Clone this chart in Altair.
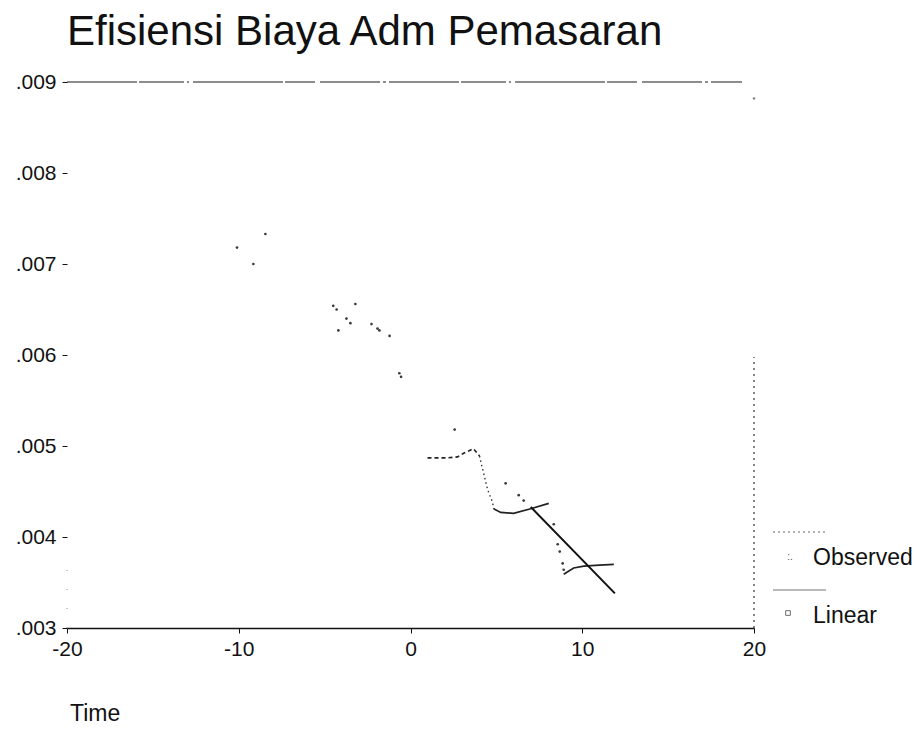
import altair as alt
import pandas as pd

FONT = "Liberation Sans"

# Scattered observed marks (Time, value)
pts_time = [-10.1, -9.15, -8.45, -4.5, -4.3, -4.2, -3.73, -3.5, -3.21, -2.27, -1.92, -1.81,
            -1.22, -0.65, -0.55, 2.57, 5.54, 6.30, 6.59, 8.34, 8.57, 8.69, 8.86, 8.92]
pts_val = [.00718, .00700, .00733, .00654, .00650, .00627, .00640, .00635, .00656, .00634,
           .00629, .00627, .00621, .00580, .00576, .00518, .00459, .00446, .00440, .00414,
           .00392, .00384, .00371, .00364]

# Observed line segments
seg_a_time = [0.99, 1.6, 2.2, 2.74, 3.09, 3.67, 4.02]
seg_a_val = [.00487, .00487, .00487, .00488, .00492, .00497, .00489]
seg_b_time = [4.02, 4.14, 4.26, 4.49, 4.78, 4.84]
seg_b_val = [.00489, .00479, .00470, .00452, .00438, .00431]
seg_c_time = [4.84, 5.25, 6.0, 7.0, 8.05]
seg_c_val = [.00431, .00427, .00426, .00431, .00437]
seg_d_time = [8.92, 9.5, 10.09, 11.0, 11.84]
seg_d_val = [.00359, .00366, .00368, .00369, .00370]

# Linear fit (visible part)
lin_time = [7.0, 11.9]
lin_val = [.00433, .00338]

# Stray mark near the top of the right edge
edge_time = [20]
edge_val = [.00882]

x_ticks = [-20, -10, 0, 10, 20]
y_ticks = [.003, .004, .005, .006, .007, .008, .009]
legend_labels = ["Observed", "Linear"]
title_text = "Efisiensi Biaya Adm Pemasaran"
x_title = "Time"

xs = alt.Scale(domain=[-20, 20], nice=False, zero=False)
ys = alt.Scale(domain=[0.003, 0.009], nice=False, zero=False)

xaxis = alt.Axis(values=x_ticks, title="", grid=False, domainColor="#111", domainWidth=1.5,
                 tickColor="#111", tickSize=5, labelFont=FONT, labelFontSize=21,
                 labelColor="#111", labelPadding=5, labelFlush=False,
                 labelExpr="datum.value < 0 ? '-' + abs(datum.value) : '' + datum.value")
yaxis = alt.Axis(values=y_ticks, title="", grid=False, domain=False, tickColor="#111",
                 tickSize=5, labelFont=FONT, labelFontSize=21, labelColor="#111",
                 labelPadding=6,
                 labelExpr="replace(format(datum.value, '.3f'), '0.', '.')")


def X(field="t"):
    return alt.X(f"{field}:Q", scale=xs, axis=xaxis)


def Y(field="v"):
    return alt.Y(f"{field}:Q", scale=ys, axis=yaxis)


pts_df = pd.DataFrame({"t": pts_time, "v": pts_val})
points = alt.Chart(pts_df).mark_point(filled=True, size=7, color="#222", opacity=0.9).encode(
    x=X(), y=Y())

edge_df = pd.DataFrame({"t": edge_time, "v": edge_val})
edge_pt = alt.Chart(edge_df).mark_point(filled=True, size=6, color="#444").encode(x=X(), y=Y())

rows = []
for name, tt, vv in [("a", seg_a_time, seg_a_val), ("b", seg_b_time, seg_b_val),
                     ("c", seg_c_time, seg_c_val), ("d", seg_d_time, seg_d_val)]:
    for i, (t, v) in enumerate(zip(tt, vv)):
        rows.append({"t": t, "v": v, "seg": name, "o": i})
seg_df = pd.DataFrame(rows)

seg_dashed = alt.Chart(seg_df[seg_df.seg == "a"]).mark_line(
    color="#222", strokeWidth=1.6, strokeDash=[4, 3]).encode(x=X(), y=Y(), order="o:Q")
seg_dotted = alt.Chart(seg_df[seg_df.seg == "b"]).mark_line(
    color="#333", strokeWidth=1.4, strokeDash=[1.5, 3]).encode(x=X(), y=Y(), order="o:Q")
seg_solid = alt.Chart(seg_df[seg_df.seg.isin(["c", "d"])]).mark_line(
    color="#222", strokeWidth=1.7).encode(x=X(), y=Y(), detail="seg:N", order="o:Q")

lin_df = pd.DataFrame({"t": lin_time, "v": lin_val})
linear = alt.Chart(lin_df).mark_line(color="#111", strokeWidth=2).encode(x=X(), y=Y())

# Frame pieces (top line, right and left dotted edges)
frame_df = pd.DataFrame({"t": [-20, 20], "v": [0.009, 0.003]})
top_line = alt.Chart(frame_df).mark_rule(
    color="#1a1a1a", strokeWidth=1.2,
    strokeDash=[70, 2, 45, 3, 2, 4, 90, 2, 30, 5, 60, 3, 3, 3]).encode(
    x=alt.X("min(t):Q", scale=xs, axis=xaxis), x2=alt.value(675),
    y=alt.Y("max(v):Q", scale=ys, axis=yaxis))
right_edge = alt.Chart(frame_df).mark_rule(
    color="#444", strokeWidth=1.3, strokeDash=[2, 4]).encode(
    x=alt.X("max(t):Q", scale=xs, axis=xaxis),
    y=alt.Y("min(v):Q", scale=ys, axis=yaxis), y2=alt.value(275))
left_edge = alt.Chart(frame_df).mark_rule(
    color="#888", strokeWidth=1, strokeDash=[1, 18]).encode(
    x=alt.X("min(t):Q", scale=xs, axis=xaxis),
    y=alt.Y("min(v):Q", scale=ys, axis=yaxis), y2=alt.value(470))

one = pd.DataFrame({"k": [0]})
title = alt.Chart(one).mark_text(
    text=title_text, font=FONT, fontSize=42, align="left", baseline="alphabetic",
    color="#111").encode(x=alt.value(0), y=alt.value(-37))
xtitle = alt.Chart(one).mark_text(
    text=x_title, font=FONT, fontSize=23, align="left", baseline="middle",
    color="#111").encode(x=alt.value(3), y=alt.value(632))

leg_obs_line = alt.Chart(one).mark_rule(color="#666", strokeWidth=1.2, strokeDash=[2, 3]).encode(
    x=alt.value(706), x2=alt.value(758), y=alt.value(450))
leg_obs_txt = alt.Chart(one).mark_text(
    text=legend_labels[0], font=FONT, fontSize=23, align="left", baseline="middle",
    color="#111").encode(x=alt.value(746), y=alt.value(476))
leg_obs_sym = alt.Chart(one).mark_text(
    text=":.", font=FONT, fontSize=10, align="center", baseline="middle",
    color="#555").encode(x=alt.value(723), y=alt.value(475))
leg_lin_line = alt.Chart(one).mark_rule(color="#777", strokeWidth=1.2).encode(
    x=alt.value(706), x2=alt.value(759), y=alt.value(508))
leg_lin_txt = alt.Chart(one).mark_text(
    text=legend_labels[1], font=FONT, fontSize=23, align="left", baseline="middle",
    color="#111").encode(x=alt.value(746), y=alt.value(534))
leg_lin_sym = alt.Chart(one).mark_point(shape="square", size=22, filled=False, color="#333",
                                        strokeWidth=1).encode(x=alt.value(721), y=alt.value(531))

chart = alt.layer(
    top_line, right_edge, left_edge, edge_pt, points, seg_dashed, seg_dotted, seg_solid, linear,
    title, xtitle, leg_obs_line, leg_obs_txt, leg_obs_sym, leg_lin_line, leg_lin_txt, leg_lin_sym
).properties(
    width=687, height=546,
    autosize=alt.AutoSizeParams(type="none"),
    padding={"left": 59, "top": 74, "right": 158, "bottom": 99},
    background="white",
).configure_view(stroke=None)

chart.save("out.html", embed_options={"renderer": "svg", "actions": False})
